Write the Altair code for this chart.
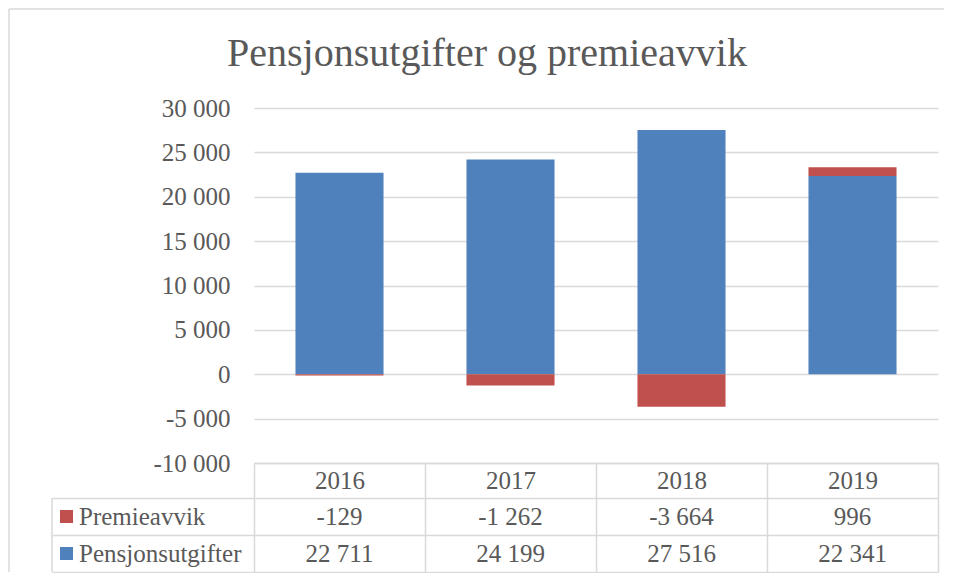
import altair as alt
import pandas as pd

# ---- data ----
years = ["2016", "2017", "2018", "2019"]
premieavvik = [-129, -1262, -3664, 996]
pensjonsutgifter = [22711, 24199, 27516, 22341]
series_names = ["Premieavvik", "Pensjonsutgifter"]
series_colors = ["#c0504d", "#4f81bd"]
y_ticks = [-10000, -5000, 0, 5000, 10000, 15000, 20000, 25000, 30000]
title_text = "Pensjonsutgifter og premieavvik"

rows = []
for i, yr in enumerate(years):
    rows.append({"year": yr, "series": "Pensjonsutgifter", "value": pensjonsutgifter[i], "ord": 0})
    rows.append({"year": yr, "series": "Premieavvik", "value": premieavvik[i], "ord": 1})
df = pd.DataFrame(rows)
df_series = pd.DataFrame({"series": series_names})
one = pd.DataFrame({"a": [0]})

# ---- style ----
FONT = "Liberation Serif"
TXT = "#595959"
GRID = "#d9d9d9"
W = 684
H = 355
HEAD = 35
ROW = 37
FS = 25

fmt = "replace(replace(format(datum.value, ','), ',', ' '), '\u2212', '-')"

color = alt.Color("series:N", scale=alt.Scale(domain=series_names, range=series_colors), legend=None)

# ---- bar panel ----
x_bar = alt.X(
    "year:N",
    scale=alt.Scale(domain=years, paddingInner=0, paddingOuter=0),
    axis=alt.Axis(title=None, orient="bottom", domain=True, domainColor=GRID, domainWidth=1.5,
                  ticks=True, tickBand="extent", tickSize=HEAD, tickColor=GRID, tickWidth=1.5,
                  grid=False, labelFont=FONT, labelFontSize=FS, labelColor=TXT,
                  labelPadding=-HEAD / 2, labelBaseline="middle", labelAngle=0),
)
y_bar = alt.Y(
    "value:Q",
    stack="zero",
    scale=alt.Scale(domain=[-10000, 30000], nice=False, zero=False),
    axis=alt.Axis(title=None, values=y_ticks, labelExpr=fmt, domain=False, ticks=False,
                  grid=True, gridColor=GRID, gridWidth=1.5, labelFont=FONT, labelFontSize=FS,
                  labelColor=TXT, labelPadding=24),
)

bars = alt.Chart(df).mark_bar(width=alt.RelativeBandSize(0.515)).encode(
    x=x_bar, y=y_bar, color=color, order=alt.Order("ord:Q")
)

title = alt.Chart(pd.DataFrame({"t": [title_text]})).mark_text(
    font=FONT, fontSize=40, color=TXT, align="center", baseline="alphabetic"
).encode(text="t:N", x=alt.value(233), y=alt.value(-42))

border_left = alt.Chart(one).mark_rule(color=GRID, strokeWidth=1.5).encode(
    x=alt.value(-245), y=alt.value(-99), y2=alt.value(H + HEAD + 2 * ROW)
)
border_top = alt.Chart(one).mark_rule(color=GRID, strokeWidth=1.5).encode(
    x=alt.value(-245), x2=alt.value(690), y=alt.value(-99)
)

top_panel = alt.layer(bars, title, border_left, border_top).properties(width=W, height=H)

# ---- data table panel ----
x_tab = alt.X(
    "year:N",
    scale=alt.Scale(domain=years, paddingInner=0, paddingOuter=0),
    axis=alt.Axis(title=None, labels=False, ticks=False, domain=False, grid=True,
                  gridColor=GRID, gridWidth=1.5, tickBand="extent"),
)
y_axis_tab = alt.Axis(title=None, orient="left", labels=False, ticks=True, tickSize=202,
                      tickColor=GRID, tickWidth=1.5, domain=False, grid=True, gridColor=GRID,
                      gridWidth=1.5, tickBand="extent")
y_scale_tab = alt.Scale(domain=series_names, paddingInner=0, paddingOuter=0)

cells = alt.Chart(df).transform_calculate(label=fmt).mark_text(
    font=FONT, fontSize=FS, color=TXT, align="center", baseline="middle"
).encode(x=x_tab, y=alt.Y("series:N", scale=y_scale_tab, axis=y_axis_tab), text="label:N")

squares = alt.Chart(df_series).mark_point(shape="square", filled=True, size=169, opacity=1).encode(
    x=alt.value(-187.5), y=alt.Y("series:N", scale=y_scale_tab, axis=y_axis_tab), color=color
)

row_labels = alt.Chart(df_series).mark_text(
    font=FONT, fontSize=FS, color=TXT, align="left", baseline="middle"
).encode(x=alt.value(-175), y=alt.Y("series:N", scale=y_scale_tab, axis=y_axis_tab), text="series:N")

table_left = alt.Chart(one).mark_rule(color=GRID, strokeWidth=1.5).encode(
    x=alt.value(-202), y=alt.value(0), y2=alt.value(2 * ROW)
)

table_panel = alt.layer(cells, squares, row_labels, table_left).properties(
    width=W, height=2 * ROW
)

chart = alt.vconcat(top_panel, table_panel, spacing=HEAD, bounds="flush").properties(
    padding={"left": 0, "top": 0, "right": 0, "bottom": 0}
).configure_view(stroke=None)

chart.save("out.html", embed_options={"renderer": "svg", "actions": False})
